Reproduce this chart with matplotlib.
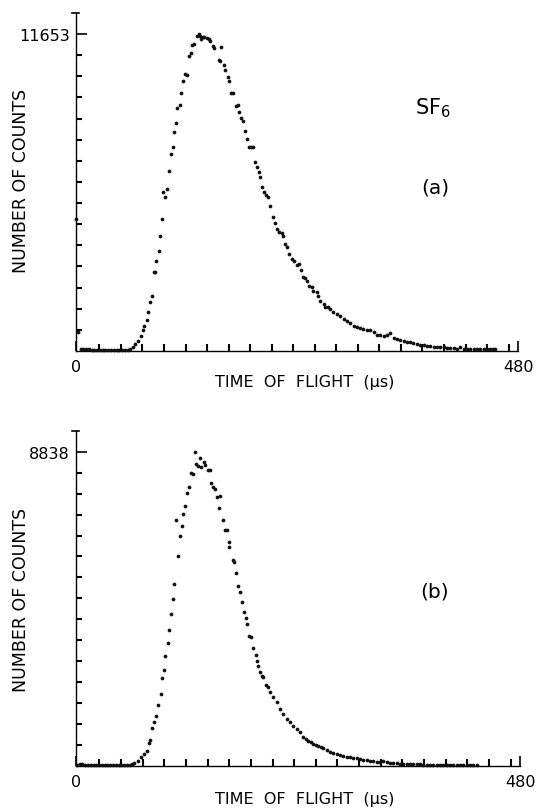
import numpy as np
import matplotlib.pyplot as plt

plt.rcParams['font.family'] = ['DejaVu Sans']
plt.rcParams['mathtext.default'] = 'regular'

# (a) time of flight (us) and counts
tof_a = [0.5, 2.0, 5, 8, 11, 14, 17, 20, 23, 26, 29, 32, 35, 38, 41, 44, 47, 50, 53, 56, 59,
         61.6, 64.5, 67.0, 70.6, 72.4, 74.3, 76.8, 78.2, 80.4, 82.6, 84.4, 86.2, 87.3, 89.8,
         91.3, 93.8, 94.2, 97.1, 98.9, 101.1, 103.6, 105.0, 106.5, 108.3, 110.1, 112.6, 114.5,
         116.6, 118.8, 120.3, 122.4, 124.6, 126.0, 128.2, 131.1, 133.3, 134.7, 136.2, 137.6,
         139.4, 142.0, 144.2, 146.0, 148.5, 150.3, 155.0, 157.2, 156.8, 161.2, 162.3, 165.2,
         166.6, 168.8, 171.0, 173.9, 175.7, 177.5, 179.3, 181.8, 184.0, 186.2, 188.0, 189.8,
         192.0, 194.5, 196.7, 198.5, 200.3, 202.1, 204.6, 206.5, 208.3,
         210.8, 214.4, 216.2, 218.8, 220.9, 223.5, 225.3, 227.1, 229.6, 231.8, 234.3, 236.9,
         239.8, 242.7, 244.1, 247.0, 248.8, 250.6, 253.5, 256.1, 257.9, 261.5, 263.3, 265.1,
         268.8, 270.6, 274.2, 276.0, 279.6, 283.2, 286.9, 290.5, 294.1, 297.7, 301.4, 305.0,
         308.6, 312.2, 315.8, 319.5, 323.1, 326.7, 330.3, 334.0, 337.6, 341.2, 344.8, 348.4,
         352.1, 355.7, 359.3, 362.9, 366.5, 370.2, 373.8, 377.4, 381.0, 384.7, 388.3, 391.9,
         395.5, 399.1, 402.8, 406.4, 410.0, 413.6, 417.3, 420.9, 424.5, 428.1, 431.8, 435.4,
         439.0, 442.6, 446.2, 449.9, 452.7, 455.3]
counts_a = [4850, 690, 80, 75, 70, 60, 55, 55, 50, 50, 50, 45, 45, 45, 45, 45, 40, 40, 45, 55, 90,
            159, 257, 380, 564, 772, 931, 1140, 1446, 1789, 2034, 2916, 2916, 3296, 3676,
            4215, 4864, 5832, 5649, 5967, 6629, 7254, 7511, 8038, 8393, 8920, 9055, 9472,
            9937, 10182, 10145, 10856, 10942, 11260, 11285, 11567, 11653, 11591, 11469, 11554,
            11530, 11505, 11469, 11408, 11224, 11126, 10697, 11162, 10672, 10525, 10329, 10060,
            9937, 9484, 9472, 9006, 9055, 8773, 8565, 8442, 8099, 7793, 7487, 7487,
            7487, 6935, 6776, 6568, 6384, 6016, 5832, 5747, 5673,
            5342, 4913, 4692, 4485, 4362, 4325, 4240, 3933, 3811, 3565, 3382, 3296,
            3173, 3198, 2978, 2732, 2683, 2585, 2402, 2340, 2218, 2157, 2034, 1850,
            1728, 1605, 1605, 1544, 1421, 1360, 1299, 1176, 1115, 1017, 931, 894,
            845, 809, 772, 772, 686, 600, 588, 564, 600, 649, 466, 441,
            404, 380, 343, 319, 282, 257, 233, 221, 196, 184, 159, 159,
            135, 135, 110, 110, 98, 74, 135, 86, 74, 74, 74, 74,
            74, 74, 61, 61, 61, 61]

# (b)
tof_b = [1, 4, 7, 10, 13, 16, 19, 22, 25, 28, 31, 34, 37, 40, 43, 46, 49, 52, 55, 58, 61,
         63.1, 66.7, 70.3, 73.9, 76.4, 78.6, 80.0, 82.2, 84.3, 86.5, 88.7, 91.5, 93.0, 94.8,
         96.2, 99.1, 100.6, 102.7, 104.5, 105.6, 108.5, 110.3, 112.8, 114.6, 116.0, 118.2,
         120.0, 122.5, 124.0, 126.1, 128.3, 129.7, 131.9, 134.4, 135.5, 138.0, 139.8, 142.4,
         144.9, 146.0, 148.1, 149.9, 152.8, 155.0, 156.1, 158.9, 160.7, 162.9, 165.1, 165.8,
         170.1, 171.2, 173.0, 175.2, 177.3, 179.5, 181.3, 183.4, 185.2, 187.0, 188.9, 191.0,
         194.6, 196.1, 196.8, 198.9, 201.1, 202.5, 205.4, 207.6, 209.8,
         213.3, 216.9, 220.5, 224.1, 227.7, 231.3, 234.9, 238.5, 242.1, 245.7, 248.4, 251.1,
         253.8, 256.6, 259.3, 262.0, 264.7, 267.4, 271.0, 274.6, 278.2, 281.8, 285.4, 289.0,
         292.6, 296.2, 299.8, 303.4, 307.0, 310.6, 314.2, 317.8, 321.4, 325.0, 328.6, 332.2,
         335.8, 339.4, 343.0, 346.7, 350.3, 353.9, 357.5, 361.1, 364.7, 368.3, 371.9, 375.5,
         379.1, 382.7, 386.3, 389.9, 393.5, 397.1, 400.7, 404.3, 407.9, 411.5, 415.1, 418.7,
         422.3, 425.9, 429.5, 433.2]
counts_b = [40, 45, 45, 40, 40, 40, 35, 35, 35, 35, 30, 30, 30, 30, 25, 25, 25, 30, 30, 40, 55,
            84, 150, 244, 337, 431, 647, 731, 1059, 1228, 1397, 1715, 2025, 2484, 2699,
            3084, 3459, 3824, 4274, 4696, 5118, 6917, 5896, 6458, 6758, 7095, 7320,
            7667, 7855, 8239, 8220, 8838, 8492, 8426, 8661, 8408, 8539, 8464, 8333,
            8323, 7948, 7855, 7789, 7555, 7255, 7583, 6927, 6645, 6645, 6289, 6158,
            5802, 5746, 5427, 5052, 4902, 4621, 4340, 4162, 3993, 3646, 3618, 3309,
            3121, 2962, 2803, 2634, 2521, 2493, 2278, 2212, 2071,
            1931, 1790, 1603, 1462, 1322, 1228, 1134, 1040, 947, 806, 760, 712,
            665, 619, 585, 553, 525, 497, 440, 384, 360, 337, 314, 291,
            267, 244, 230, 216, 192, 169, 155, 141, 131, 122, 122, 150,
            103, 84, 80, 75, 65, 56, 52, 47, 47, 47, 47, 42,
            42, 37, 37, 37, 37, 37, 33, 33, 33, 28, 28, 28,
            28, 28, 20, 20]

peak_a = 11653
peak_b = 8838
x_max = 480

W, H = 540, 812
fig = plt.figure(figsize=(W / 100, H / 100), dpi=100)
ax_a = fig.add_axes([76 / W, 1 - 352 / H, 442 / W, 338 / H])
ax_b = fig.add_axes([76 / W, 1 - 767 / H, 444 / W, 335.3 / H])


def style(ax, t, c, peak, ytop):
    ax.plot(t, c, 'o', ms=2.7, color='#111111', mec='none', clip_on=False, zorder=3)
    ax.set_xlim(0, x_max)
    ax.set_ylim(0, ytop)
    for s in ['top', 'right']:
        ax.spines[s].set_visible(False)
    for s in ['left', 'bottom']:
        ax.spines[s].set_linewidth(1.0)

    # labelled end ticks are major, the plain ones minor
    ax.set_xticks([0, x_max])
    ax.set_xticklabels(['0', str(x_max)])
    ax.set_xticks(np.linspace(25.4, 469.8, 20), minor=True)
    ax.set_yticks([peak])
    ax.set_yticklabels([str(peak)])
    ax.set_yticks(peak * np.arange(1, 15) / 15, minor=True)
    ax.tick_params(axis='x', which='major', direction='in', length=7.2, width=1.2,
                   pad=5.5, labelsize=11.5, color='black')
    ax.tick_params(axis='x', which='minor', direction='in', length=5, width=1.5,
                   color='black')
    ax.tick_params(axis='y', which='major', direction='in', length=8, width=1.2,
                   pad=4.5, labelsize=11.5, color='black')
    ax.tick_params(axis='y', which='minor', direction='in', length=4.4, width=1.5,
                   color='black')

    ax.plot([-0.008, 0.006], [1, 1], transform=ax.transAxes, clip_on=False,
            color='k', lw=1.2)


style(ax_a, tof_a, counts_a, peak_a, 12425)
style(ax_b, tof_b, counts_b, peak_b, 9428)


def ftext(x, y, s, **kw):
    fig.text(x / W, 1 - y / H, s, ha='center', va='center', **kw)


ftext(21, 181, 'NUMBER OF COUNTS', rotation=90, fontsize=12.5)
ftext(21, 600, 'NUMBER OF COUNTS', rotation=90, fontsize=12.5)
ftext(305, 383, 'TIME  OF  FLIGHT  (µs)', fontsize=11.5)
ftext(305, 800, 'TIME  OF  FLIGHT  (µs)', fontsize=11.5)
ftext(433, 108, 'SF$_6$', fontsize=15)
ftext(435, 188, '(a)', fontsize=14.5)
ftext(435, 592, '(b)', fontsize=14.5)

fig.savefig('out.png', dpi=100)
